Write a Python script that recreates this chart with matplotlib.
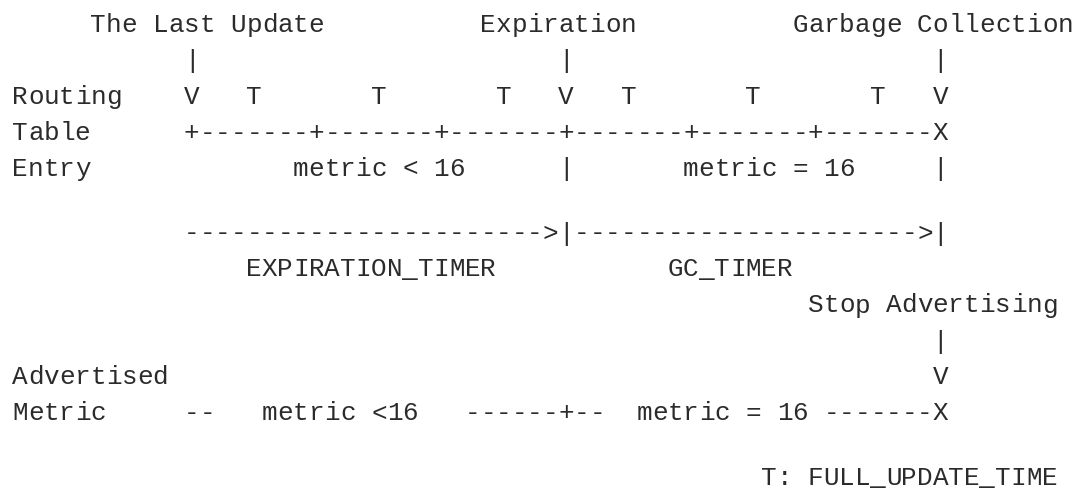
import matplotlib
matplotlib.use("Agg")
import matplotlib.pyplot as plt

# ASCII timing diagram (RIP route timers), one string per text row
header_row = "     The Last Update          Expiration          Garbage Collection"
pointer_row = "           |                       |                       |"
routing_row = "Routing    V   T       T       T   V   T       T       T   V"
table_row = "Table      +-------+-------+-------+-------+-------+-------X"
entry_row = "Entry             metric < 16      |       metric = 16     |"
blank_row = ""
timer_arrow_row = "           ----------------------->|---------------------->|"
timer_label_row = "               EXPIRATION_TIMER           GC_TIMER"
stop_row = "                                                   Stop Advertising"
stop_pointer_row = "                                                           |"
advertised_row = "Advertised                                                 V"
metric_row = "Metric     --   metric <16   ------+--  metric = 16 -------X"
legend_row = "                                                T: FULL_UPDATE_TIME"

rows = [header_row, pointer_row, routing_row, table_row, entry_row, blank_row,
        timer_arrow_row, timer_label_row, stop_row, stop_pointer_row,
        advertised_row, metric_row, blank_row, legend_row]

W, H, DPI = 1078, 492, 100
CHAR_W = 15.6      # px per column
LEFT = 12.3        # px, left edge of column 0
FIRST_BASE = 32.0  # px, baseline of row 0 from top
LINE_H = 36.0      # px per text row
BLANK_H = 28.5     # px per empty row

# baselines (px from top)
heights = [BLANK_H if not r else LINE_H for r in rows]
baselines = [FIRST_BASE]
for i in range(1, len(rows)):
    baselines.append(baselines[-1] + (heights[i - 1] + heights[i]) / 2)

fig = plt.figure(figsize=(W / DPI, H / DPI), dpi=DPI)
fig.patch.set_facecolor("white")
ax = fig.add_axes([0, 0, 1, 1])
ax.set_xlim(-LEFT / CHAR_W, (W - LEFT) / CHAR_W)
ax.set_ylim(H, 0)
ax.axis("off")

for line, yb in zip(rows, baselines):
    for c, ch in enumerate(line):
        if ch == " ":
            continue
        ax.text(c + 0.5, yb, ch, ha="center", va="baseline",
                family=["Liberation Mono", "DejaVu Sans Mono"],
                fontsize=18.7, color="#2b2b2b")

fig.savefig("out.png", dpi=DPI, facecolor="white")
